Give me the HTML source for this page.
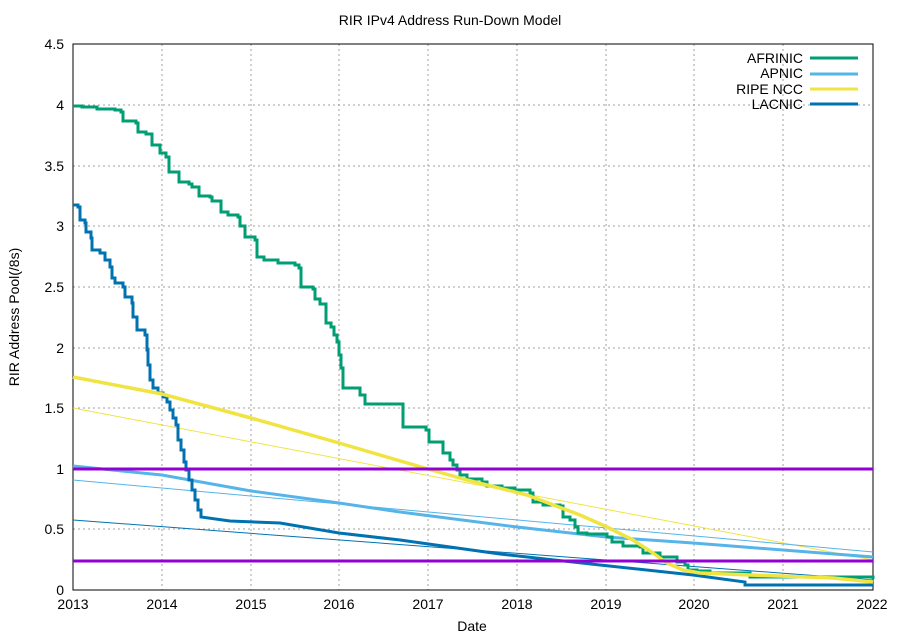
<!DOCTYPE html>
<html><head><meta charset="utf-8"><style>body{margin:0;background:#fff}svg{display:block;font-family:"Liberation Sans",sans-serif}</style></head><body>
<svg width="900" height="640" viewBox="0 0 900 640">
<g stroke="#a0a0a0" stroke-dasharray="2,3" stroke-width="1">
<line x1="162" y1="44" x2="162" y2="590"/><line x1="251" y1="44" x2="251" y2="590"/><line x1="339" y1="44" x2="339" y2="590"/><line x1="428" y1="44" x2="428" y2="590"/><line x1="517" y1="44" x2="517" y2="590"/><line x1="606" y1="44" x2="606" y2="590"/><line x1="694" y1="44" x2="694" y2="590"/><line x1="783" y1="44" x2="783" y2="590"/>
<line x1="73" y1="529" x2="873" y2="529"/><line x1="73" y1="469" x2="873" y2="469"/><line x1="73" y1="408" x2="873" y2="408"/><line x1="73" y1="348" x2="873" y2="348"/><line x1="73" y1="287" x2="873" y2="287"/><line x1="73" y1="226" x2="873" y2="226"/><line x1="73" y1="166" x2="873" y2="166"/><line x1="73" y1="105" x2="873" y2="105"/>
</g>
<rect x="73" y="44" width="800" height="546" fill="none" stroke="#000" stroke-width="1"/>
<g font-size="14" text-anchor="end" fill="#000">
<text x="64" y="595">0</text><text x="64" y="534">0.5</text><text x="64" y="474">1</text><text x="64" y="413">1.5</text><text x="64" y="353">2</text><text x="64" y="292">2.5</text><text x="64" y="231">3</text><text x="64" y="171">3.5</text><text x="64" y="110">4</text><text x="64" y="49">4.5</text>
</g>
<g font-size="14" text-anchor="middle">
<text x="73" y="609">2013</text><text x="162" y="609">2014</text><text x="251" y="609">2015</text><text x="339" y="609">2016</text><text x="428" y="609">2017</text><text x="517" y="609">2018</text><text x="606" y="609">2019</text><text x="694" y="609">2020</text><text x="783" y="609">2021</text><text x="872" y="609">2022</text>
<text x="472" y="631">Date</text>
<text x="450" y="25">RIR IPv4 Address Run-Down Model</text>
<text transform="translate(19,317) rotate(-90)">RIR Address Pool(/8s)</text>
</g>
<g fill="none" stroke-linejoin="miter">
<line x1="73" y1="408" x2="873" y2="560" stroke="#f0e442" stroke-width="1"/>
<line x1="73" y1="480" x2="873" y2="552" stroke="#56b4e9" stroke-width="1"/>
<line x1="73" y1="520" x2="873" y2="580" stroke="#0072b2" stroke-width="1"/>
<polyline stroke="#56b4e9" stroke-width="3" points="73,466 162,475 251,491 339,503 400,512 517,527 606,537 693,543 873,557"/>
<path stroke="#0072b2" stroke-width="3" d="M73,205 H78 V207 H80 V220 H85 V223 H86 V232 H91 V238 H92 V250 H100 V253 H105 V260 H110 V267 H112 V278 H115 V283 H123 V287 H125 V297 H132 V303 H133 V317 H137 V330 H145 V335 H147 V350 H148 V365 H150 V380 H153 V388 H158 V393 H163 V397 H167 V402 H170 V410 H173 V418 H176 V425 H178 V440 H181 V450 H184 V462 H186 V470 H189 V480 H192 V490 H195 V500 H198 V510 H201 V517 L230,521 L280,523 L339,533 L400,540 L500,554 L600,565 L693,575 L745,582 V585 H873"/>
<path stroke="#009e73" stroke-width="3" d="M73,106 H82 V107 H97 V109 H115 V110 H121 V112 H123 V121 H136 V123 H138 V132 H146 V134 H152 V145 H160 V153 H166 V157 H169 V172 H179 V182 H189 V184 H192 V187 H199 V196 H210 V197 H212 V201 H221 V212 H228 V215 H238 V217 H240 V226 H245 V237 H255 V240 H257 V257 H264 V260 H278 V263 H295 V265 H299 V268 H301 V287 H313 V289 H315 V299 H320 V304 H326 V323 H331 V327 H334 V335 H337 V342 H339 V355 H341 V368 H343 V388 H360 V395 H365 V404 H403 V427 H426 V430 H429 V442 H443 V453 H450 V460 H453 V465 H457 V470 H460 V475 H467 V479 H482 V482 H487 V486 H502 V488 H515 V490 H530 V493 H533 V502 H543 V505 H560 V506 H563 V517 H570 V520 H575 V527 H578 V533 H587 V534 H607 V537 H612 V542 H623 V546 H640 V547 H643 V553 H660 V557 H670 V557 H677 V562 H685 V565 H688 V570 H697 V571 H710 V573 H750 V577 H873 V579"/>
<polyline stroke="#f0e442" stroke-width="3.5" stroke-linejoin="round" points="73,377 162,394 251,418 339,443 428,469 467,480 527,495 580,515 607,527 633,540 653,553 667,563 683,570 700,573 750,575 833,578 873,582"/>
<line x1="73" y1="469" x2="873" y2="469" stroke="#9400d3" stroke-width="3"/>
<line x1="73" y1="561" x2="873" y2="561" stroke="#9400d3" stroke-width="3"/>
</g>
<g font-size="14" text-anchor="end">
<text x="803" y="63">AFRINIC</text><text x="803" y="78">APNIC</text><text x="803" y="94">RIPE NCC</text><text x="803" y="109">LACNIC</text>
</g>
<g stroke-width="3">
<line x1="810" y1="58" x2="858" y2="58" stroke="#009e73"/>
<line x1="810" y1="74" x2="858" y2="74" stroke="#56b4e9"/>
<line x1="810" y1="89" x2="858" y2="89" stroke="#f0e442"/>
<line x1="810" y1="104" x2="858" y2="104" stroke="#0072b2"/>
</g>
</svg>
</body></html>
